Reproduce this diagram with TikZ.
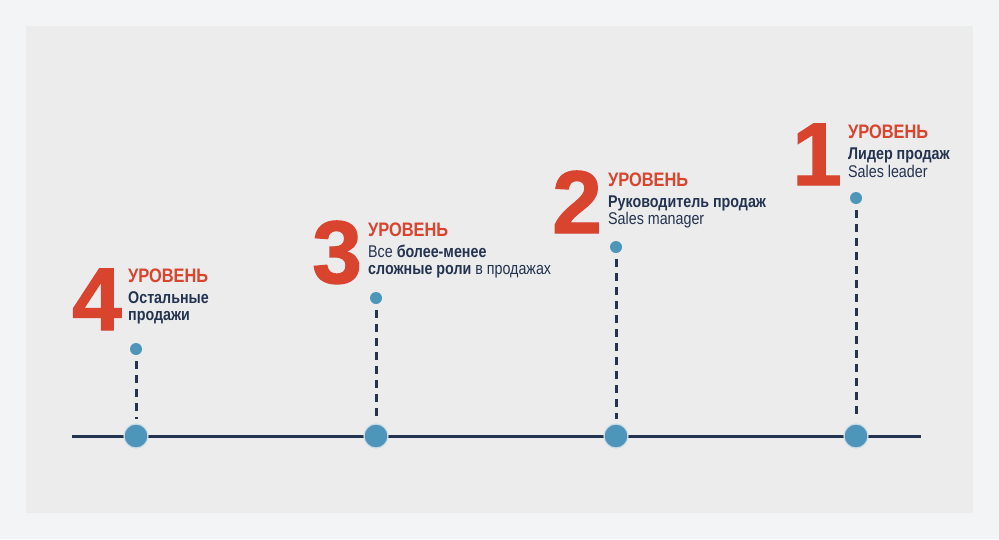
\documentclass[tikz,border=0pt]{standalone}
\usepackage{fontspec}
\setmainfont{Liberation Sans}[FakeStretch=0.84]
\newfontfamily\numfont{Liberation Sans Bold}[FakeBold=1.5]
\definecolor{lvlred}{HTML}{D8442E}
\definecolor{navy}{HTML}{233350}
\definecolor{dotblue}{HTML}{4E95BA}
\definecolor{pagebg}{HTML}{F3F4F6}
\definecolor{panelbg}{HTML}{ECECEC}

\begin{document}
\begin{tikzpicture}[x=1pt, y=-1pt,
  lvltitle/.style={anchor=base west, inner sep=0pt, text=lvlred, font=\fontsize{19.5}{19.5}\selectfont\bfseries},
  lvltext/.style={anchor=base west, inner sep=0pt, text=navy, font=\fontsize{17}{17}\selectfont},
  lvlnum/.style={anchor=base east, inner sep=0pt, text=lvlred, font=\numfont\fontsize{89}{89}\selectfont},
  bigdot/.style={circle, inner sep=0pt, minimum size=24pt, fill=dotblue, draw=white!70!dotblue, line width=1.2pt},
  smalldot/.style={circle, inner sep=0pt, minimum size=12pt, fill=dotblue},
  stem/.style={navy, line width=3pt, dash pattern=on 8pt off 6pt, shorten <=6pt, shorten >=4pt},
  timeline/.style={navy, line width=3pt}]
\useasboundingbox (0,0) rectangle (999,539);
\fill[pagebg] (0,0) rectangle (999,539);
\fill[panelbg] (26,26) rectangle (973,513);
% axis
\coordinate (lineL) at (72,436);
\coordinate (lineR) at (921,436);
\draw[timeline] (lineL) -- (lineR);
% level 4
\node[bigdot] (base4) at (136,436) {};
\node[smalldot] (pin4) at (136,349) {};
\draw[stem] (pin4) -- (base4);
\node[lvlnum] (num4) at (122,330) {4};
\node[lvltitle] (title4) at (128,282) {УРОВЕНЬ};
\node[lvltext] (textA4) at (128,303) {\bfseries Остальные};
\node[lvltext] (textB4) at (128,320) {\bfseries продажи};
% level 3
\node[bigdot] (base3) at (376,436) {};
\node[smalldot] (pin3) at (376,298) {};
\draw[stem] (pin3) -- (base3);
\node[lvlnum] (num3) at (362,283) {3};
\node[lvltitle] (title3) at (368,236) {УРОВЕНЬ};
\node[lvltext] (textA3) at (368,257) {Все \textbf{более-менее}};
\node[lvltext] (textB3) at (368,274) {\textbf{сложные роли} в продажах};
% level 2
\node[bigdot] (base2) at (616,436) {};
\node[smalldot] (pin2) at (616,247) {};
\draw[stem] (pin2) -- (base2);
\node[lvlnum] (num2) at (602,233) {2};
\node[lvltitle] (title2) at (608,186) {УРОВЕНЬ};
\node[lvltext] (textA2) at (608,207) {\bfseries Руководитель продаж};
\node[lvltext] (textB2) at (608,224) {Sales manager};
% level 1
\node[bigdot] (base1) at (856,436) {};
\node[smalldot] (pin1) at (856,198) {};
\draw[stem] (pin1) -- (base1);
\node[lvlnum] (num1) at (842,185) {1};
\node[lvltitle] (title1) at (848,138) {УРОВЕНЬ};
\node[lvltext] (textA1) at (848,159) {\bfseries Лидер продаж};
\node[lvltext] (textB1) at (848,177) {Sales leader};
\end{tikzpicture}
\end{document}
